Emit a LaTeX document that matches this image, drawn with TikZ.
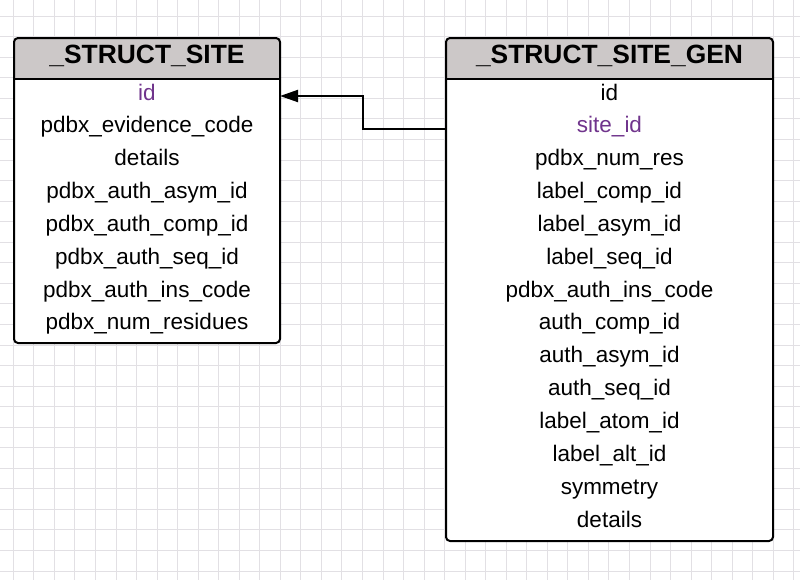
\documentclass[tikz,border=0pt]{standalone}
\usepackage{fontspec}
\setmainfont{Liberation Sans}
\usetikzlibrary{arrows.meta,positioning,calc}
\definecolor{headgray}{RGB}{204,200,200}
\definecolor{keypurple}{RGB}{112,52,140}
\definecolor{gridgray}{RGB}{226,224,228}
\tikzset{
  >=Triangle,
  field/.style={anchor=base, inner sep=0pt, text height=8pt, text depth=2pt, font=\fontsize{11.25}{13}\selectfont},
  key field/.style={field, text=keypurple},
  head/.style={anchor=base, inner sep=0pt, font=\fontsize{13.2}{15}\selectfont\bfseries},
  frame/.style={draw=black, line width=1pt, rounded corners=2pt},
  link/.style={-{Triangle[length=9pt,width=6pt]}, line width=1pt},
  gridline/.style={gridgray, line width=0.5pt}
}

\begin{document}
\begin{tikzpicture}[x=0.5pt, y=-0.5pt]
\useasboundingbox (0,0) rectangle (800,584);

% --- Background grid ---
\foreach \i in {0,...,38} { \draw[gridline] ({13.3+20.54*\i},0) -- ({13.3+20.54*\i},580); }
\foreach \j in {0,...,27} { \draw[gridline] (0,{16.2+20.55*\j}) -- (800,{16.2+20.55*\j}); }

% --- _STRUCT_SITE ---
\coordinate (siteNW) at (14,38);
\coordinate (siteSE) at (280,343);
\coordinate (siteHW) at (14,79);
\coordinate (siteHE) at (280,79);
\begin{scope}
  \clip[rounded corners=2pt] (siteNW) rectangle (siteSE);
  \fill[white] (siteNW) rectangle (siteSE);
  \fill[headgray] (siteNW) rectangle (siteHE);
\end{scope}
\draw[line width=1pt] (siteHW) -- (siteHE);
\draw[frame] (siteNW) rectangle (siteSE);
\node[head] (siteT) at (147,63.5) {\_STRUCT\_SITE};
\foreach \t/\s [count=\n] in {id/key field, pdbx\_evidence\_code/field, details/field,
    pdbx\_auth\_asym\_id/field, pdbx\_auth\_comp\_id/field, pdbx\_auth\_seq\_id/field,
    pdbx\_auth\_ins\_code/field, pdbx\_num\_residues/field} {
    \node[\s] (site\n) at (147,{100+32.85*(\n-1)}) {\t};
}

% --- _STRUCT_SITE_GEN ---
\coordinate (genNW) at (446,38);
\coordinate (genSE) at (773,541);
\coordinate (genHW) at (446,79);
\coordinate (genHE) at (773,79);
\begin{scope}
  \clip[rounded corners=2pt] (genNW) rectangle (genSE);
  \fill[white] (genNW) rectangle (genSE);
  \fill[headgray] (genNW) rectangle (genHE);
\end{scope}
\draw[line width=1pt] (genHW) -- (genHE);
\draw[frame] (genNW) rectangle (genSE);
\node[head] (genT) at (609.5,63.5) {\_STRUCT\_SITE\_GEN};
\foreach \t/\s [count=\n] in {id/field, site\_id/key field, pdbx\_num\_res/field,
    label\_comp\_id/field, label\_asym\_id/field, label\_seq\_id/field,
    pdbx\_auth\_ins\_code/field, auth\_comp\_id/field, auth\_asym\_id/field,
    auth\_seq\_id/field, label\_atom\_id/field, label\_alt\_id/field,
    symmetry/field, details/field} {
    \node[\s] (gen\n) at (609.5,{100+32.85*(\n-1)}) {\t};
}

% --- Foreign key link ---
\draw[link] ([yshift=-1pt]gen2.center -| genNW) -- ++(-83,0) |- ([yshift=-1pt]site1.center -| siteSE);

\end{tikzpicture}
\end{document}
